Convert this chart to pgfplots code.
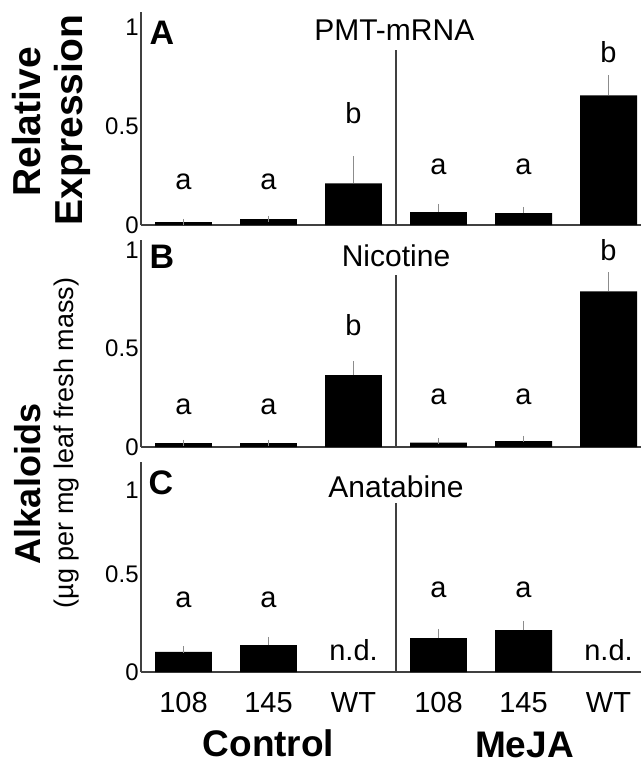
\documentclass[border=0pt]{standalone}
\usepackage{pgfplots}
\usepackage{fontspec}
\setmainfont{Liberation Sans}
\pgfplotsset{compat=1.18}

\definecolor{axisgray}{HTML}{404040}
\definecolor{errgray}{HTML}{8C8C8C}

\newcommand{\fs}[1]{\fontsize{#1}{#1}\selectfont}

\pgfplotsset{
  panel/.style={
    scale only axis,
    width=250pt,
    xmin=-0.5, xmax=5.382,
    ymin=0,
    clip=false,
    axis x line*=bottom,
    axis y line*=left,
    axis line style={-, axisgray, line width=1pt},
    major tick length=0pt,
    xtick=\empty,
    ytick={0,0.5,1},
    yticklabels={0,0.5,1},
    yticklabel style={font=\fs{12}, inner sep=1pt},
    ybar, bar width=0.67,
  },
  barstyle/.style={
    fill=black, draw=none,
    error bars/.cd,
      y dir=plus, y explicit,
      error bar style={errgray, line width=0.6pt},
      error mark options={errgray, line width=0.6pt, mark size=1.6pt},
  },
}
\tikzset{
  lbl/.style={font=\fs{14.5}},
  ttl/.style={font=\fs{15}},
  letter/.style={font=\bfseries\fs{17}},
}

\begin{document}
\begin{tikzpicture}
\path[use as bounding box] (0,0) rectangle (320.5pt,-382.5pt);

% ---- A: PMT-mRNA
\begin{axis}[panel, at={(70.5pt,-112.5pt)}, anchor=south west,
  height=106.5pt, ymax=1.076]
  \addplot[barstyle] coordinates {
    (0,0.015) +- (0,0)
    (1,0.030) +- (0,0)
    (2,0.210) +- (0,0.120)
    (3,0.065) +- (0,0.025)
    (4,0.060) +- (0,0.015)
    (5,0.655) +- (0,0.085)
  };
  \draw[axisgray, line width=1pt] (axis cs:2.5,0) -- (axis cs:2.5,0.884);
  \node[letter] at (axis cs:-0.253,0.97) {A};
  \node[ttl] at (axis cs:2.48,0.985) {PMT-mRNA};
  \node[lbl] at (axis cs:0,0.217) {a};
  \node[lbl] at (axis cs:1,0.217) {a};
  \node[lbl] at (axis cs:2,0.566) {b};
  \node[lbl] at (axis cs:3,0.293) {a};
  \node[lbl] at (axis cs:4,0.293) {a};
  \node[lbl] at (axis cs:5,0.874) {b};
\end{axis}

% ---- B: Nicotine
\begin{axis}[panel, at={(70.5pt,-223.5pt)}, anchor=south west,
  height=103.5pt, ymax=1.05]
  \addplot[barstyle] coordinates {
    (0,0.020) +- (0,0)
    (1,0.020) +- (0,0)
    (2,0.365) +- (0,0.055)
    (3,0.022) +- (0,0.008)
    (4,0.030) +- (0,0.010)
    (5,0.790) +- (0,0.080)
  };
  \draw[axisgray, line width=1pt] (axis cs:2.5,0) -- (axis cs:2.5,0.873);
  \node[letter] at (axis cs:-0.253,0.964) {B};
  \node[ttl] at (axis cs:2.5,0.97) {Nicotine};
  \node[lbl] at (axis cs:0,0.203) {a};
  \node[lbl] at (axis cs:1,0.203) {a};
  \node[lbl] at (axis cs:2,0.619) {b};
  \node[lbl] at (axis cs:3,0.254) {a};
  \node[lbl] at (axis cs:4,0.254) {a};
  \node[lbl] at (axis cs:5,1.0) {b};
\end{axis}

% ---- C: Anatabine
\begin{axis}[panel, at={(70.5pt,-336pt)}, anchor=south west,
  height=105pt, ymax=1.077,
  ytick={0,0.5,0.93},
  xtick={0,1,2,3,4,5},
  xticklabels={108,145,WT,108,145,WT},
  xticklabel style={font=\fs{14.5}, anchor=north, inner sep=0pt, yshift=-10pt}]
  \addplot[barstyle] coordinates {
    (0,0.103) +- (0,0.012)
    (1,0.138) +- (0,0.026)
    (3,0.174) +- (0,0.031)
    (4,0.215) +- (0,0.031)
  };
  \draw[axisgray, line width=1pt] (axis cs:2.5,0) -- (axis cs:2.5,0.867);
  \node[letter] at (axis cs:-0.265,0.969) {C};
  \node[ttl] at (axis cs:2.5,0.949) {Anatabine};
  \node[lbl] at (axis cs:0,0.369) {a};
  \node[lbl] at (axis cs:1,0.369) {a};
  \node[lbl] at (axis cs:2,0.113) {n.d.};
  \node[lbl] at (axis cs:3,0.42) {a};
  \node[lbl] at (axis cs:4,0.42) {a};
  \node[lbl] at (axis cs:5,0.113) {n.d.};
\end{axis}

% ---- outer labels
\node[rotate=90, font=\bfseries\fs{19.5}] at (13.5pt,-61pt) {Relative};
\node[rotate=90, font=\bfseries\fs{19.5}] at (36pt,-60pt) {Expression};
\node[rotate=90, font=\bfseries\fs{18}] at (14pt,-242pt) {Alkaloids};
\node[rotate=90, font=\fs{13.5}] at (33.5pt,-221.5pt) {(µg per mg leaf fresh mass)};
\node[font=\bfseries\fs{18.5}] at (134.25pt,-371.5pt) {Control};
\node[font=\bfseries\fs{18.5}] at (262.25pt,-372.5pt) {MeJA};
\end{tikzpicture}
\end{document}
